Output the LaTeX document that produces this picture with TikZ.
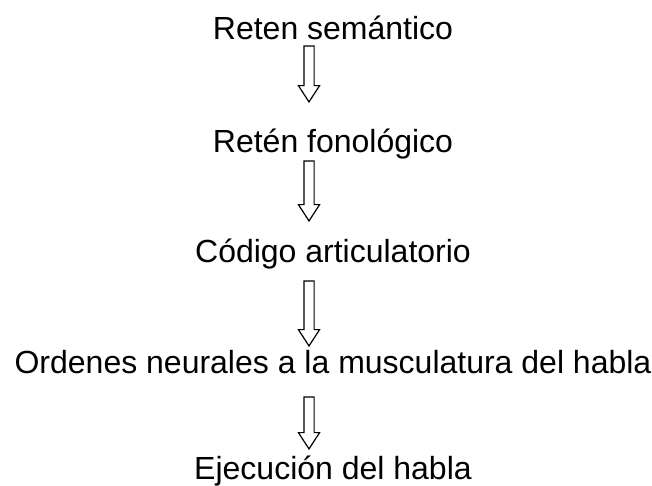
\documentclass[tikz,border=0pt]{standalone}
\usepackage{fontspec}
\setmainfont{Liberation Sans}
\usepackage{tikz}
\usetikzlibrary{%
  shapes.arrows,% wg. single arrow
  positioning%
}
\tikzset{
  etapa/.style={inner sep=0pt, anchor=base, font=\fontsize{32}{38}\selectfont},
  flecha/.style={single arrow, draw, line width=1.2pt, shape border rotate=270,
    inner sep=4.5pt, minimum width=0pt, single arrow head extend=5.5pt,
    single arrow tip angle=66, single arrow head indent=0pt}
}

\begin{document}
\begin{tikzpicture}[x=1pt,y=1pt]
\useasboundingbox (0,0) rectangle (652,-485);
\node[etapa] (sem) at (333,-39) {Reten semántico};
\node[etapa] (fon) at (333,-152) {Retén fonológico};
\node[etapa] (art) at (333,-262) {Código articulatorio};
\node[etapa] (ord) at (333,-373) {Ordenes neurales a la musculatura del habla};
\node[etapa] (eje) at (333,-479) {Ejecución del habla};
\node[flecha, minimum height=56pt] (f1) at (309,-70) {};
\node[flecha, minimum height=60pt] (f2) at (309,-187) {};
\node[flecha, minimum height=65pt] (f3) at (309,-309.5) {};
\node[flecha, minimum height=52pt] (f4) at (309,-419) {};
\end{tikzpicture}
\end{document}
